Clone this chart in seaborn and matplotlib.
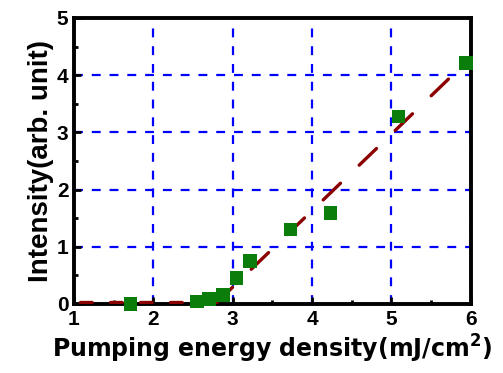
import matplotlib
matplotlib.use("Agg")
import matplotlib.pyplot as plt
import seaborn as sns
import pandas as pd
from matplotlib.ticker import MultipleLocator

# data
pump_density = [1.71, 2.55, 2.70, 2.88, 3.05, 3.22, 3.73, 4.23, 5.09, 5.94]
intensity = [0.00, 0.04, 0.09, 0.16, 0.45, 0.75, 1.30, 1.59, 3.28, 4.21]
flat_x = [1.08, 2.80]
flat_y = [0.03, 0.03]
slope_x = [2.78, 5.92]
slope_y = [0.0, 4.20]
x_ticks = [1, 2, 3, 4, 5, 6]
y_ticks = [0, 1, 2, 3, 4, 5]

sns.set_theme(style="white")
plt.rcParams['font.family'] = ['Liberation Sans', 'DejaVu Sans']
plt.rcParams['text.color'] = 'black'
plt.rcParams['axes.labelcolor'] = 'black'
plt.rcParams['xtick.color'] = 'black'
plt.rcParams['ytick.color'] = 'black'

fig = plt.figure(figsize=(5.03, 3.73), dpi=100)
ax = fig.add_axes([0.147, 0.185, 0.789, 0.767])

pts = pd.DataFrame({"x": pump_density, "y": intensity})
flat = pd.DataFrame({"x": flat_x, "y": flat_y})
slope = pd.DataFrame({"x": slope_x, "y": slope_y})

sns.lineplot(data=flat, x="x", y="y", ax=ax, color="#8b0000", lw=2.4,
             zorder=3, sort=False)
ax.lines[-1].set_dashes([3.5, 5.5])
sns.lineplot(data=slope, x="x", y="y", ax=ax, color="#8b0000", lw=2.4,
             zorder=3, sort=False)
ax.lines[-1].set_dashes([7.2, 7.8])
for ln in ax.lines:
    ln.set_solid_capstyle("butt")
    ln.set_dash_capstyle("round")
sns.scatterplot(data=pts, x="x", y="y", ax=ax, marker="s", s=95,
                color="#0a7d0a", edgecolor="none", zorder=4, clip_on=False)

ax.set_xlim(1, 6)
ax.set_ylim(0, 5)
ax.set_xticks(x_ticks)
ax.set_yticks(y_ticks)
ax.xaxis.set_minor_locator(MultipleLocator(0.5))
ax.yaxis.set_minor_locator(MultipleLocator(0.5))
ax.grid(True, which="major", color="#0000ff", linestyle=(0, (4, 4)), lw=1.6)
ax.set_axisbelow(True)

for s in ax.spines.values():
    s.set_color("black")
    s.set_linewidth(2.8)

ax.tick_params(which="major", direction="in", length=5, width=2, color="black",
               labelcolor="black", labelsize=15, pad=4, left=True, bottom=True)
ax.tick_params(which="minor", direction="in", length=3, width=2, color="black",
               left=True, bottom=True)
for lab in ax.get_xticklabels() + ax.get_yticklabels():
    lab.set_fontweight("bold")

ax.set_xlabel("Pumping energy density(mJ/cm$^\\mathbf{2}$)", fontsize=17,
              fontweight="bold", labelpad=3, family=['DejaVu Sans'],
              color="black")
ax.set_ylabel("Intensity(arb. unit)", fontsize=20, fontweight="bold",
              labelpad=2, color="black")

fig.savefig("out.png", dpi=100)
